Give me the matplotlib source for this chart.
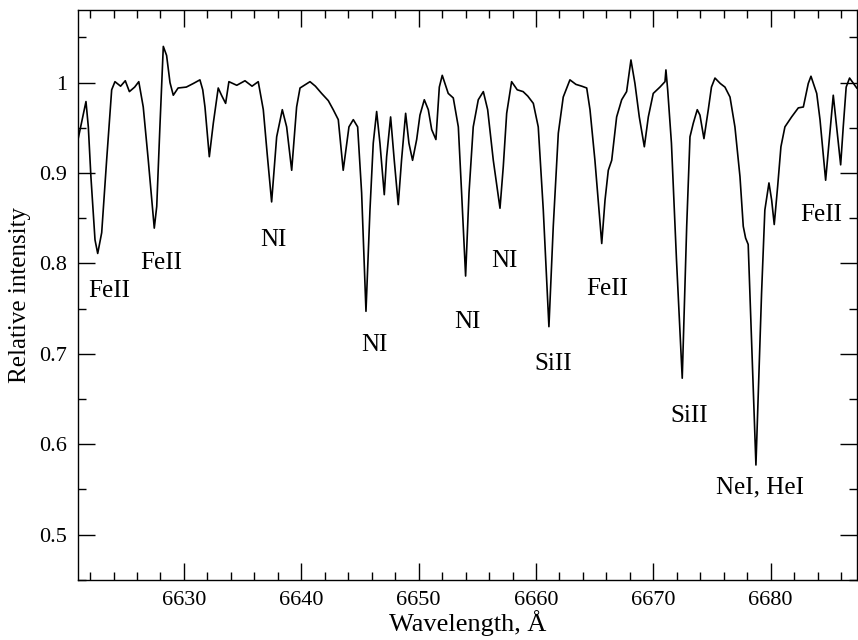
#!/usr/bin/env python3
import matplotlib
matplotlib.use('Agg')
import matplotlib.pyplot as plt
from matplotlib.ticker import MultipleLocator, FixedLocator, FixedFormatter

# spectrum (wavelength in A, relative intensity)
wavelength = [
	6620.97, 6621.65, 6621.85, 6622.07, 6622.42, 6622.65, 6622.99, 6623.41, 6623.84, 6624.12,
	6624.60, 6625.00, 6625.35, 6625.80, 6626.15, 6626.53, 6626.96, 6627.47, 6627.68, 6627.95,
	6628.24, 6628.52, 6628.81, 6629.09, 6629.50, 6630.20, 6630.80, 6631.36, 6631.60, 6631.79,
	6632.16, 6632.50, 6632.92, 6633.20, 6633.55, 6633.83, 6634.50, 6635.20, 6635.80, 6636.33,
	6636.76, 6637.10, 6637.47, 6637.90, 6638.38, 6638.75, 6639.18, 6639.60, 6639.89, 6640.74,
	6641.20, 6641.73, 6642.30, 6642.72, 6643.15, 6643.57, 6644.06, 6644.43, 6644.80, 6645.14,
	6645.51, 6645.85, 6646.13, 6646.42, 6646.70, 6647.07, 6647.27, 6647.61, 6647.92, 6648.26,
	6648.54, 6648.89, 6649.17, 6649.48, 6649.83, 6650.11, 6650.48, 6650.82, 6651.11, 6651.47,
	6651.76, 6652.01, 6652.52, 6652.95, 6653.38, 6653.66, 6654.00, 6654.29, 6654.65, 6655.08,
	6655.51, 6655.88, 6656.36, 6656.93, 6657.21, 6657.50, 6657.92, 6658.40, 6658.90, 6659.30,
	6659.77, 6660.19, 6660.62, 6661.10, 6661.47, 6661.90, 6662.32, 6662.89, 6663.40, 6663.90,
	6664.32, 6664.60, 6665.02, 6665.60, 6665.88, 6666.16, 6666.45, 6666.87, 6667.30, 6667.72,
	6668.09, 6668.43, 6668.80, 6669.23, 6669.57, 6669.99, 6670.56, 6670.99, 6671.07, 6671.22,
	6671.54, 6671.97, 6672.46, 6672.84, 6673.12, 6673.40, 6673.74, 6673.97, 6674.31, 6674.68,
	6674.95, 6675.25, 6675.70, 6676.10, 6676.53, 6676.95, 6677.38, 6677.66, 6677.86, 6678.08,
	6678.43, 6678.74, 6678.94, 6679.22, 6679.50, 6679.85, 6680.08, 6680.30, 6680.59, 6680.87,
	6681.21, 6681.78, 6682.35, 6682.78, 6683.20, 6683.43, 6683.92, 6684.20, 6684.68, 6684.96,
	6685.33, 6685.62, 6685.96, 6686.18, 6686.43, 6686.72, 6687.33,
]
intensity = [
	0.937, 0.979, 0.951, 0.896, 0.826, 0.811, 0.834, 0.914, 0.992, 1.001,
	0.996, 1.002, 0.990, 0.995, 1.001, 0.973, 0.914, 0.839, 0.863, 0.951,
	1.040, 1.030, 1.000, 0.986, 0.994, 0.995, 0.999, 1.003, 0.992, 0.973,
	0.918, 0.955, 0.994, 0.986, 0.977, 1.001, 0.997, 1.002, 0.996, 1.001,
	0.970, 0.920, 0.868, 0.940, 0.970, 0.951, 0.903, 0.973, 0.994, 1.001,
	0.996, 0.988, 0.980, 0.970, 0.959, 0.903, 0.951, 0.959, 0.951, 0.878,
	0.747, 0.859, 0.933, 0.968, 0.933, 0.876, 0.918, 0.962, 0.914, 0.865,
	0.914, 0.966, 0.933, 0.914, 0.937, 0.964, 0.981, 0.970, 0.948, 0.937,
	0.995, 1.008, 0.988, 0.983, 0.951, 0.878, 0.786, 0.878, 0.951, 0.981,
	0.990, 0.970, 0.914, 0.861, 0.907, 0.966, 1.001, 0.992, 0.990, 0.985,
	0.977, 0.951, 0.859, 0.730, 0.841, 0.944, 0.984, 1.003, 0.998, 0.996,
	0.994, 0.970, 0.914, 0.822, 0.870, 0.903, 0.914, 0.962, 0.981, 0.990,
	1.025, 0.999, 0.962, 0.929, 0.962, 0.988, 0.995, 1.001, 1.014, 0.992,
	0.933, 0.804, 0.673, 0.841, 0.940, 0.955, 0.970, 0.964, 0.938, 0.970,
	0.995, 1.005, 0.999, 0.995, 0.984, 0.951, 0.896, 0.841, 0.828, 0.821,
	0.693, 0.577, 0.657, 0.767, 0.859, 0.889, 0.870, 0.843, 0.885, 0.929,
	0.951, 0.962, 0.972, 0.973, 0.999, 1.007, 0.988, 0.959, 0.892, 0.933,
	0.986, 0.951, 0.909, 0.951, 0.995, 1.005, 0.994,
]

# line identifications and where their labels sit
line_labels = ["FeII", "FeII", "NI", "NI", "NI", "NI", "SiII", "FeII", "SiII", "NeI, HeI", "FeII"]
label_wl = [6623.61, 6628.04, 6637.58, 6646.19, 6654.12, 6657.27, 6661.44, 6666.05, 6673.04, 6679.08, 6684.28]
label_y = [0.770, 0.800, 0.826, 0.710, 0.735, 0.803, 0.689, 0.772, 0.631, 0.552, 0.854]

y_ticks = [0.5, 0.6, 0.7, 0.8, 0.9, 1.0]
y_tick_labels = ["0.5", "0.6", "0.7", "0.8", "0.9", "1"]

plt.rcParams['font.family'] = ['Liberation Serif', 'DejaVu Serif']

fig = plt.figure(figsize=(8.58, 6.4), dpi=100)
ax = fig.add_axes([0.0909, 0.094, 0.9079, 0.890])
ax.plot(wavelength, intensity, color='black', linewidth=1.2)

for text, x, y in zip(line_labels, label_wl, label_y):
	ax.text(x, y, text, ha='center', va='center', fontsize=18)

ax.set_xlim(6620.97, 6687.35)
ax.set_ylim(0.45, 1.08)
ax.xaxis.set_major_locator(MultipleLocator(10))
ax.xaxis.set_minor_locator(MultipleLocator(2))
ax.yaxis.set_major_locator(FixedLocator(y_ticks))
ax.yaxis.set_major_formatter(FixedFormatter(y_tick_labels))
ax.yaxis.set_minor_locator(MultipleLocator(0.05))
ax.tick_params(which='both', direction='in', top=True, right=True, width=1.0)
ax.tick_params(which='major', length=12, labelsize=16, pad=8)
ax.tick_params(which='minor', length=6)
for spine in ax.spines.values():
	spine.set_linewidth(1.0)

ax.set_xlabel("Wavelength, Å", fontsize=19, labelpad=0)
ax.set_ylabel("Relative intensity", fontsize=18, labelpad=6)

fig.savefig("out.png", dpi=100)
